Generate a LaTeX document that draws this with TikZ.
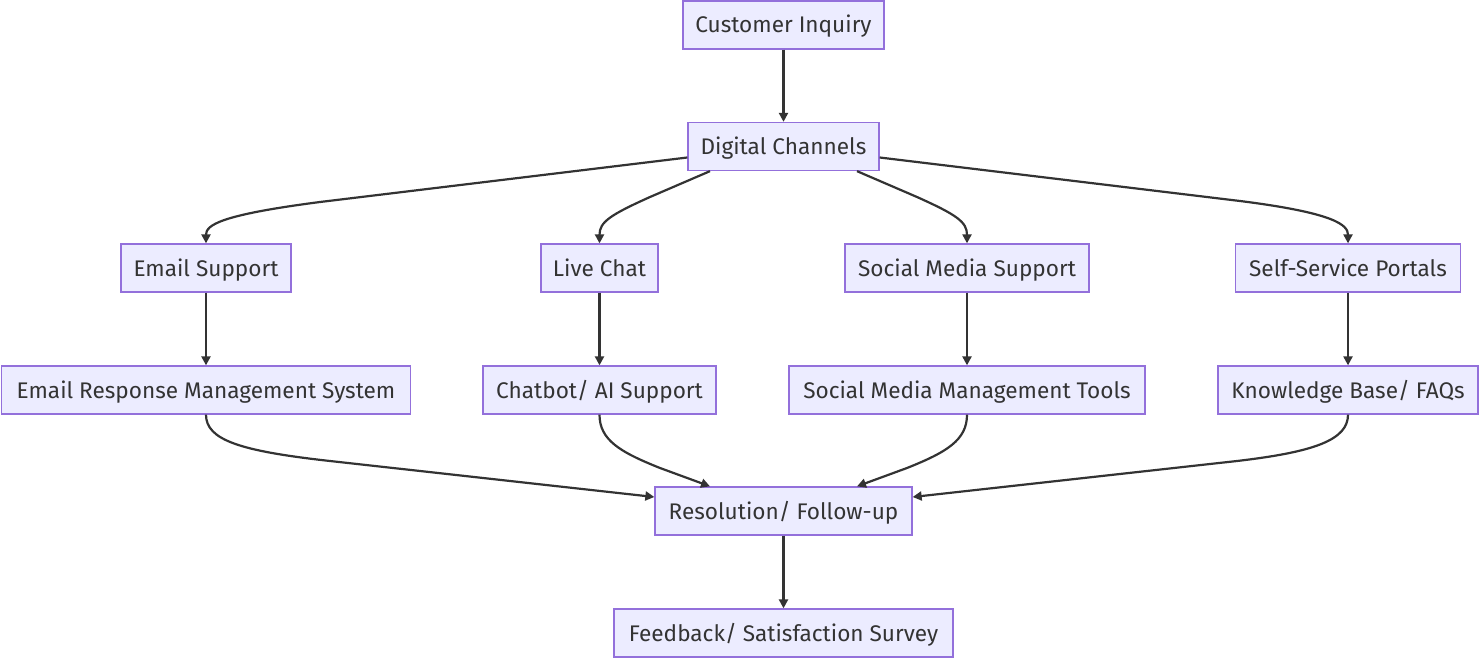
\documentclass[tikz,border=0pt]{standalone}
\usepackage{fontspec}
\setmainfont{Fira Sans}
\usetikzlibrary{arrows.meta,calc}
\definecolor{boxfill}{HTML}{ECECFF}
\definecolor{boxline}{HTML}{9370DB}
\definecolor{edge}{HTML}{333333}
\definecolor{txt}{HTML}{333333}
\begin{document}
\begin{tikzpicture}[x=1pt,y=-1pt,
  box/.style={draw=boxline,fill=boxfill,line width=1.3pt,minimum height=48pt,inner sep=0pt,text height=16pt,text depth=0pt,text=txt,font=\fontsize{22.6}{27}\selectfont},
  conn/.style={draw=edge,line width=2.2pt,-{Triangle[length=9pt,width=9pt]}}]
\useasboundingbox (0,0) rectangle (1480,658);
\node[box,minimum width=201pt] (ci) at (783.5,25) {Customer Inquiry};
\node[box,minimum width=191pt] (dc) at (783.5,146.5) {Digital Channels};
\node[box,minimum width=170pt] (es) at (206,268) {Email Support};
\node[box,minimum width=117pt] (lc) at (599.5,268) {Live Chat};
\node[box,minimum width=244pt] (sm) at (967,268) {Social Media Support};
\node[box,minimum width=225pt] (ss) at (1348,268) {Self-Service Portals};
\node[box,minimum width=409pt] (er) at (206,390) {Email Response Management System};
\node[box,minimum width=233pt] (cb) at (599.5,390) {Chatbot/ AI Support};
\node[box,minimum width=356pt] (mt) at (967,390) {Social Media Management Tools};
\node[box,minimum width=260pt] (kb) at (1348,390) {Knowledge Base/ FAQs};
\node[box,minimum width=257pt] (rf) at (783.5,511) {Resolution/ Follow-up};
\node[box,minimum width=339pt] (fs) at (783.5,633) {Feedback/ Satisfaction Survey};
\draw[conn] (ci) -- (dc);
\draw[conn] ([yshift=-11pt]dc.west) -- (320,202) .. controls (220,215) and (206,225) .. (es.north);
\draw[conn] ([xshift=-73.5pt]dc.south) -- (650,197) .. controls (610,215) and (599.5,222) .. (lc.north);
\draw[conn] ([xshift=73.5pt]dc.south) -- (917,197) .. controls (957,215) and (967,222) .. (sm.north);
\draw[conn] ([yshift=-11pt]dc.east) -- (1240,201) .. controls (1335,213) and (1348,225) .. (ss.north);
\draw[conn] (es) -- (er);
\draw[conn] (lc) -- (cb);
\draw[conn] (sm) -- (mt);
\draw[conn] (ss) -- (kb);
\draw[conn] (er.south) .. controls (206,440) and (240,451) .. (330,461) -- ([yshift=14pt]rf.west);
\draw[conn] (cb.south) .. controls (599.5,440) and (620,452) .. (660,468) -- ([xshift=-73.5pt]rf.north);
\draw[conn] (mt.south) .. controls (967,440) and (947,452) .. (907,468) -- ([xshift=73.5pt]rf.north);
\draw[conn] (kb.south) .. controls (1348,440) and (1314,452) .. (1237,461) -- ([yshift=14pt]rf.east);
\draw[conn] (rf) -- (fs);
\end{tikzpicture}
\end{document}
